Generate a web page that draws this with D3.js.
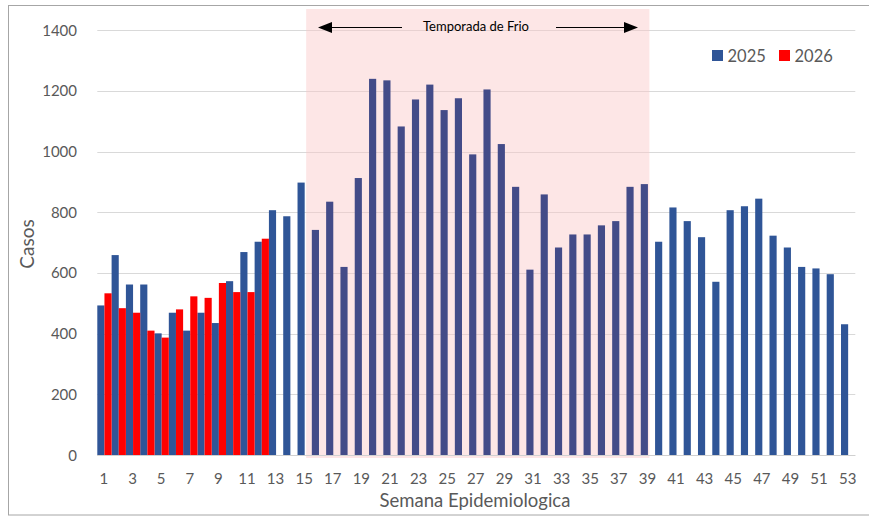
<!DOCTYPE html>
<html>
<head>
<meta charset="utf-8">
<script src="https://cdn.jsdelivr.net/npm/d3@7"></script>
<style>
  html, body { margin: 0; padding: 0; background: #fff; }
  svg { display: block; font-family: Lato, "Open Sans", sans-serif; }
</style>
</head>
<body>
<svg id="chart" width="869" height="518"></svg>
<script>
const weeks = [1,2,3,4,5,6,7,8,9,10,11,12,13,14,15,16,17,18,19,20,21,22,23,24,25,26,27,
  28,29,30,31,32,33,34,35,36,37,38,39,40,41,42,43,44,45,46,47,48,49,50,51,52,53];
const cases2025 = [493,659,562,562,401,469,410,469,435,573,669,703,807,787,898,742,835,620,913,1240,
  1235,1083,1172,1221,1137,1176,991,1205,1025,884,611,859,684,727,727,757,771,884,893,703,
  816,771,718,571,807,820,845,723,684,620,615,596,431];
const cases2026 = [533,484,469,410,387,480,523,518,567,537,537,713];
const seriesNames = ["2025", "2026"];
const yTicks = [0,200,400,600,800,1000,1200,1400];
const xTickWeeks = weeks.filter(w => w % 2 === 1);
const coldSeason = {from: 15, to: 39, label: "Temporada de Frio"};

(function () {
const svg = d3.select("#chart");
const pLeft = 97.3, pRight = 855.3, pBottom = 455, pTop = 30.3;
const textColor = "#595959";

const x = d3.scaleBand().domain(weeks).range([pLeft, pRight]).padding(0);
const xs = d3.scaleBand().domain(seriesNames).range([0, x.bandwidth()]).padding(0);
const y = d3.scaleLinear().domain([0, 1400]).range([pBottom, pTop]);

// outer frame
svg.append("rect").attr("x", 8.5).attr("y", 5.5).attr("width", 880).attr("height", 509.5)
  .attr("fill", "none").attr("stroke", "#a6a6a6").attr("stroke-width", 1);

// gridlines
svg.append("g").selectAll("line").data(yTicks).join("line")
  .attr("x1", pLeft).attr("x2", pRight)
  .attr("y1", d => Math.round(y(d)) + 0.5).attr("y2", d => Math.round(y(d)) + 0.5)
  .attr("stroke", "#d9d9d9").attr("stroke-width", 1.2);

// cold season band
const bandX0 = x(coldSeason.from) + xs.bandwidth() + 1.5;
const bandX1 = x(coldSeason.to) + xs.bandwidth() + 1.5;
svg.append("rect").attr("x", bandX0).attr("y", 9).attr("width", bandX1 - bandX0).attr("height", pBottom + 3 - 9)
  .attr("fill", "rgb(250,200,200)").attr("opacity", 0.45);

// bars
const bars = [];
cases2025.forEach((v, i) => bars.push({week: weeks[i], s: "2025", v}));
cases2026.forEach((v, i) => bars.push({week: weeks[i], s: "2026", v}));
function barColor(d) {
  if (d.s === "2026") return "#ff0000";
  if (d.week > coldSeason.from && d.week <= coldSeason.to) return "#434b88";
  return "#2f5597";
}
svg.append("g").selectAll("rect").data(bars).join("rect")
  .attr("x", d => x(d.week) + xs(d.s))
  .attr("width", xs.bandwidth())
  .attr("y", d => y(d.v))
  .attr("height", d => y(0) - y(d.v))
  .attr("fill", barColor);

// bottom axis line
svg.append("line").attr("x1", pLeft).attr("x2", pRight).attr("y1", pBottom + 0.5).attr("y2", pBottom + 0.5)
  .attr("stroke", "#d0d0d0").attr("stroke-width", 1.2);

// y tick labels
svg.append("g").selectAll("text").data(yTicks).join("text")
  .attr("x", 77).attr("y", d => y(d) + 5.5)
  .attr("text-anchor", "end").attr("font-size", 15).attr("fill", textColor)
  .text(d => d);

// x tick labels
svg.append("g").selectAll("text").data(xTickWeeks).join("text")
  .attr("x", d => x(d) + x.bandwidth() / 2 - 0.5).attr("y", 484)
  .attr("text-anchor", "middle").attr("font-size", 15).attr("fill", textColor)
  .text(d => d);

// axis titles
svg.append("text").attr("x", 475).attr("y", 506.5).attr("text-anchor", "middle")
  .attr("font-size", 18.5).attr("fill", textColor).text("Semana Epidemiologica");
svg.append("text").attr("transform", "translate(34,244) rotate(-90)").attr("text-anchor", "middle")
  .attr("font-size", 19).attr("fill", textColor).text("Casos");

// legend
const legend = [{name: "2025", color: "#2f5597", x: 712}, {name: "2026", color: "#ff0000", x: 779}];
const lg = svg.append("g").selectAll("g").data(legend).join("g");
lg.append("rect").attr("x", d => d.x).attr("y", 50).attr("width", 11).attr("height", 11).attr("fill", d => d.color);
lg.append("text").attr("x", d => d.x + 15.5).attr("y", 61.5).attr("font-size", 16.5).attr("fill", textColor).text(d => d.name);

// annotation arrows
const ay = 27.5;
svg.append("text").attr("x", 476).attr("y", 31).attr("text-anchor", "middle")
  .attr("font-size", 13).attr("fill", "#000").text(coldSeason.label);
function arrow(x1, x2) {
  const dir = x2 > x1 ? -1 : 1;
  svg.append("line").attr("x1", x1).attr("x2", x2 + dir * 12).attr("y1", ay).attr("y2", ay)
    .attr("stroke", "#000").attr("stroke-width", 1.2);
  svg.append("path").attr("d", `M${x2},${ay} L${x2 + dir * 14},${ay - 5.5} L${x2 + dir * 14},${ay + 5.5} Z`).attr("fill", "#000");
}
arrow(402, 318);
arrow(556, 638);
})();
</script>
</body>
</html>
